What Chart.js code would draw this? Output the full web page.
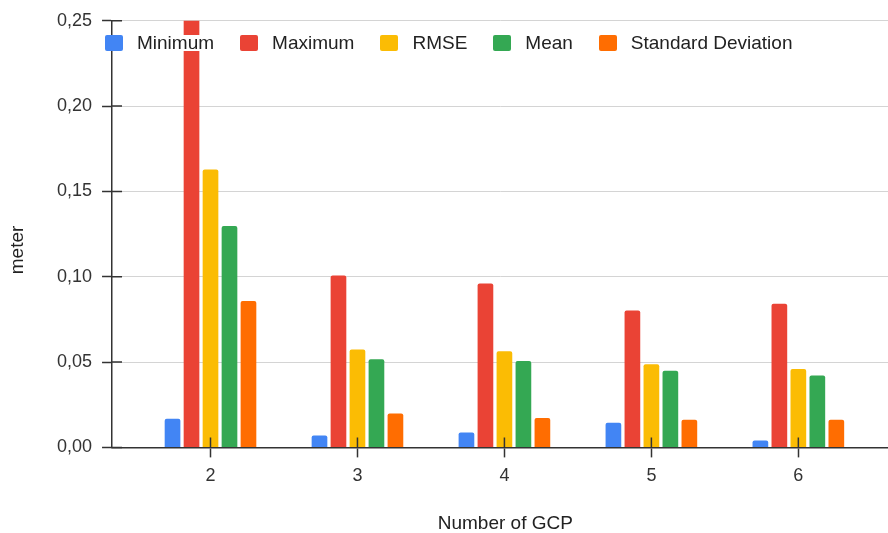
<!DOCTYPE html>
<html>
<head>
<meta charset="utf-8">
<title>GCP error statistics</title>
<script src="https://cdn.jsdelivr.net/npm/chart.js@4"></script>
<style>
  html, body { margin: 0; padding: 0; background: #fff; }
  #wrap { position: relative; width: 888px; height: 533px; }
  #legend {
    position: absolute; left: 105px; top: 35px;
    display: flex; gap: 26px;
    font: 19px Arial, "Liberation Sans", sans-serif; color: #222;
  }
  #legend .item { display: flex; align-items: center; }
  #legend .swatch { width: 18px; height: 16px; border-radius: 2px; margin-right: 14px; }
  #legend .text { background: #fff; line-height: 16px; }
</style>
</head>
<body>
<div id="wrap">
  <canvas id="chart" width="888" height="533"></canvas>
  <div id="legend"></div>
</div>
<script>
// ---------------------------------------------------------------
// data (meter) per number of ground control points
// ---------------------------------------------------------------
const gcpCounts = [2, 3, 4, 5, 6];
const minimum   = [0.0168, 0.0070, 0.0088, 0.0145, 0.0041];
const maximum   = [0.2600, 0.1008, 0.0961, 0.0803, 0.0842];
const rmse      = [0.1628, 0.0573, 0.0563, 0.0487, 0.0459];
const mean      = [0.1297, 0.0516, 0.0506, 0.0449, 0.0422];
const stdDev    = [0.0858, 0.0199, 0.0172, 0.0162, 0.0162];

const yTicksStep = 0.05;
const yMax = 0.25;
const xMin = 1.33, xMax = 6.61;

const seriesNames  = ['Minimum', 'Maximum', 'RMSE', 'Mean', 'Standard Deviation'];
const seriesValues = [minimum, maximum, rmse, mean, stdDev];
const seriesColors = ['#4285F4', '#EA4335', '#FBBC04', '#34A853', '#FF6D01'];

Chart.defaults.font.family = 'Arial, "Liberation Sans", sans-serif';
Chart.defaults.color = '#333';

const toPoints = vals => gcpCounts.map((g, i) => ({ x: g, y: vals[i] }));

// small tick stubs that reach into the plot area, drawn over the bars
const innerTicks = {
  id: 'innerTicks',
  afterDatasetsDraw(chart) {
    const { ctx, chartArea, scales } = chart;
    ctx.save();
    ctx.strokeStyle = '#333';
    ctx.lineWidth = 1.5;
    ctx.beginPath();
    scales.y.ticks.forEach(t => {
      const py = scales.y.getPixelForValue(t.value);
      ctx.moveTo(chartArea.left, py);
      ctx.lineTo(chartArea.left + 10, py);
    });
    scales.x.ticks.forEach(t => {
      const px = scales.x.getPixelForValue(t.value);
      ctx.moveTo(px, chartArea.bottom);
      ctx.lineTo(px, chartArea.bottom - 10);
    });
    ctx.stroke();
    ctx.restore();
  }
};

const chart = new Chart(document.getElementById('chart'), {
  type: 'bar',
  data: {
    datasets: seriesNames.map((name, i) => ({
      label: name,
      data: toPoints(seriesValues[i]),
      backgroundColor: seriesColors[i],
      borderRadius: 2,
      categoryPercentage: 0.646,
      barPercentage: 0.826
    }))
  },
  options: {
    responsive: false,
    animation: false,
    layout: { padding: { top: 20, right: 0, bottom: 0, left: 0 } },
    plugins: {
      legend: { display: false },
      tooltip: { enabled: false }
    },
    scales: {
      x: {
        type: 'linear',
        min: xMin,
        max: xMax,
        offset: false,
        afterBuildTicks: scale => { scale.ticks = gcpCounts.map(v => ({ value: v })); },
        grid: { offset: false, drawOnChartArea: false, tickLength: 10, tickColor: '#333', tickWidth: 1.5 },
        border: { color: '#333', width: 1.5 },
        ticks: {
          padding: 8, maxRotation: 0, color: '#333',
          font: { size: 18 },
          callback: v => String(v)
        },
        title: {
          display: true, text: '  Number of GCP', color: '#222',
          font: { size: 19, lineHeight: 1 },
          padding: { top: 19, bottom: 0 }
        }
      },
      y: {
        min: 0,
        max: yMax,
        grid: { color: '#d4d4d4', tickLength: 10, tickColor: '#333', tickWidth: 1.5 },
        border: { color: '#333', width: 1.5 },
        ticks: {
          stepSize: yTicksStep, padding: 10, color: '#333',
          font: { size: 18 },
          callback: v => v.toFixed(2).replace('.', ',')
        },
        title: {
          // trailing spaces push the rotated label a little below mid-axis
          display: true, text: 'meter      ', color: '#222',
          font: { size: 19, lineHeight: 1 },
          padding: { top: 8, bottom: 20 }
        }
      }
    }
  },
  plugins: [innerTicks]
});

// legend built from the chart's datasets
const legendEl = document.getElementById('legend');
chart.data.datasets.forEach(ds => {
  const item = document.createElement('span');
  item.className = 'item';
  const sw = document.createElement('span');
  sw.className = 'swatch';
  sw.style.background = ds.backgroundColor;
  const txt = document.createElement('span');
  txt.className = 'text';
  txt.textContent = ds.label;
  item.appendChild(sw);
  item.appendChild(txt);
  legendEl.appendChild(item);
});
</script>
</body>
</html>
